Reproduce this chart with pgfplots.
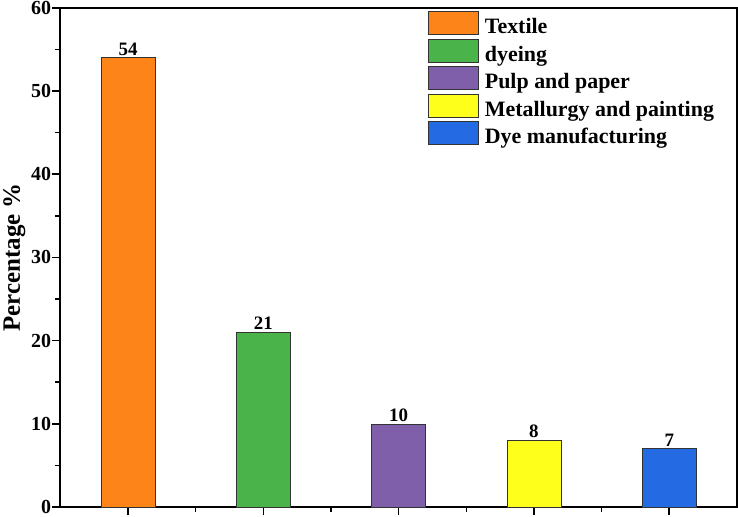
\documentclass[border=0pt]{standalone}
\usepackage{pgfplots}
\pgfplotsset{compat=1.18}
\usepackage{fontspec}
\setmainfont{Liberation Serif}
\definecolor{cOrange}{HTML}{FC8418}
\definecolor{cGreen}{HTML}{4AB34A}
\definecolor{cPurple}{HTML}{805FAA}
\definecolor{cYellow}{HTML}{FFFF1C}
\definecolor{cBlue}{HTML}{246BE3}
\definecolor{cEdge}{HTML}{333333}
\begin{document}
\begin{tikzpicture}
\begin{axis}[
  scale only axis, width=676bp, height=499bp,
  xmin=0.5, xmax=5.5, ymin=0, ymax=60,
  xtick={1,2,3,4,5}, xticklabels={},
  minor xtick={1.5,2.5,3.5,4.5},
  xticklabel style={inner sep=0pt, outer sep=0pt, text height=0pt, text depth=0pt},
  ytick={0,10,20,30,40,50,60}, minor ytick={5,15,25,35,45,55},
  axis line style={line width=2.2pt},
  tick style={line width=1.6pt, black},
  major tick length=8bp, minor tick length=5bp,
  tick align=outside, xtick pos=bottom, ytick pos=left,
  /pgf/number format/assume math mode=true,
  yticklabel style={font=\fontsize{20}{22}\selectfont\bfseries, inner sep=1bp},
  ylabel={Percentage \%},
  ylabel style={font=\fontsize{25}{27}\selectfont\bfseries, at={(rel axis cs:0,0.5)}, anchor=center, rotate=0, yshift=46bp},
  ybar, bar width=0.4, bar shift=0pt,
  nodes near coords,
  nodes near coords style={font=\fontsize{19}{21}\selectfont\bfseries, black, inner sep=2bp},
  every axis plot post/.append style={draw=cEdge, line width=0.7pt,
    legend image code/.code={\draw[##1, line width=0.9pt] (0bp,-6bp) rectangle (50bp,17bp);}},
  legend style={draw=none, fill=none, at={(rel axis cs:0.543,0.993)}, anchor=north west,
    font=\fontsize{22}{24}\selectfont\bfseries, row sep=0bp, column sep=6bp, inner sep=0pt,
    nodes={inner sep=0pt, text height=15bp, text depth=5bp}},
  legend cell align=left,
]
\addplot[fill=cOrange] coordinates {(1,54)};
\addplot[fill=cGreen] coordinates {(2,21)};
\addplot[fill=cPurple] coordinates {(3,10)};
\addplot[fill=cYellow] coordinates {(4,8)};
\addplot[fill=cBlue] coordinates {(5,7)};
\legend{Textile, dyeing, Pulp and paper, Metallurgy and painting, Dye manufacturing}
\end{axis}
\end{tikzpicture}
\end{document}
